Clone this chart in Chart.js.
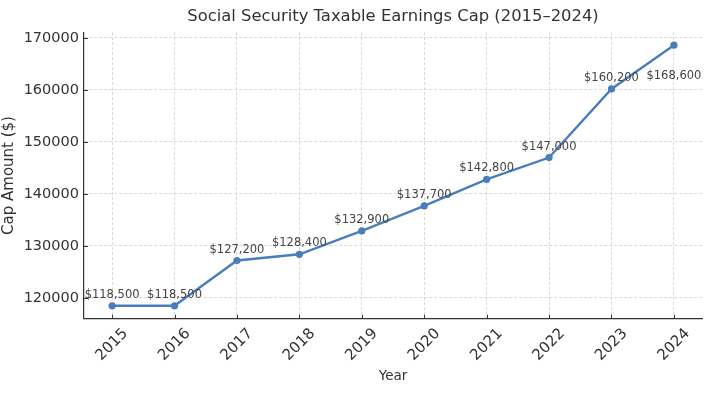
<!DOCTYPE html>
<html>
<head>
<meta charset="utf-8">
<script src="https://cdn.jsdelivr.net/npm/chart.js@4.4.1/dist/chart.umd.min.js"></script>
<style>
  html, body { margin: 0; padding: 0; background: #fff; }
</style>
</head>
<body>
<canvas id="capChart" width="704" height="396"></canvas>
<script>
// data
const years = [2015, 2016, 2017, 2018, 2019, 2020, 2021, 2022, 2023, 2024];
const capAmounts = [118500, 118500, 127200, 128400, 132900, 137700, 142800, 147000, 160200, 168600];
const yTicks = [120000, 130000, 140000, 150000, 160000, 170000];

const FONT = 'DejaVu Sans';
const lineColor = '#4a7ebb';

// x labels rotated 45deg and centred on the tick (matplotlib style), inner tick marks, value labels
const extrasPlugin = {
    id: 'extras',
    afterDatasetsDraw(chart) {
        const ctx = chart.ctx;
        const xs = chart.scales.x;
        const ys = chart.scales.y;
        const area = chart.chartArea;
        ctx.save();

        // inward tick marks
        ctx.strokeStyle = '#333';
        ctx.lineWidth = 1;
        ctx.setLineDash([]);
        ctx.beginPath();
        years.forEach(function(yr) {
            const px = Math.round(xs.getPixelForValue(yr)) + 0.5;
            ctx.moveTo(px, area.bottom);
            ctx.lineTo(px, area.bottom - 4);
        });
        yTicks.forEach(function(v) {
            const py = Math.round(ys.getPixelForValue(v)) + 0.5;
            ctx.moveTo(area.left, py);
            ctx.lineTo(area.left + 4, py);
        });
        ctx.stroke();

        // rotated year labels
        ctx.font = '15px "' + FONT + '"';
        ctx.fillStyle = '#333';
        ctx.textAlign = 'center';
        ctx.textBaseline = 'middle';
        years.forEach(function(yr) {
            const label = String(yr);
            const w = ctx.measureText(label).width;
            const h = 15 * 1.05;
            const boxH = (w + h) * Math.SQRT1_2;
            const px = xs.getPixelForValue(yr);
            const py = area.bottom + 7 + boxH / 2;
            ctx.save();
            ctx.translate(px, py);
            ctx.rotate(-Math.PI / 4);
            ctx.fillText(label, 0, 0);
            ctx.restore();
        });

        // value labels
        ctx.font = '11.5px "' + FONT + '"';
        ctx.fillStyle = '#444';
        const meta = chart.getDatasetMeta(0);
        meta.data.forEach(function(pt, i) {
            const text = '$' + capAmounts[i].toLocaleString('en-US');
            const dy = (i === capAmounts.length - 1) ? 31 : -11;
            ctx.fillText(text, pt.x, pt.y + dy);
        });
        ctx.restore();
    }
};

const capChart = new Chart(
    document.getElementById('capChart'),
    {
        type: 'line',
        data: {
            datasets: [
                {
                    label: 'Cap Amount',
                    data: years.map(function(yr, i) { return { x: yr, y: capAmounts[i] }; }),
                    borderColor: lineColor,
                    backgroundColor: lineColor,
                    borderWidth: 2.4,
                    pointRadius: 3.6,
                    pointHoverRadius: 3.6,
                    pointBorderWidth: 0,
                    tension: 0,
                    clip: false
                }
            ]
        },
        options: {
            responsive: false,
            animation: false,
            layout: {
                autoPadding: false,
                padding: { top: 0, right: 2, bottom: 0, left: 0 }
            },
            scales: {
                x: {
                    type: 'linear',
                    min: 2014.55,
                    max: 2024.45,
                    afterBuildTicks: function(scale) {
                        scale.ticks = years.map(function(v) { return { value: v }; });
                    },
                    ticks: { display: false },
                    grid: {
                        color: '#cfcfcf',
                        lineWidth: 0.8,
                        drawTicks: false
                    },
                    border: { display: true, color: '#333', width: 1.2, dash: [3, 2] },
                    title: {
                        display: true,
                        text: 'Year',
                        color: '#333',
                        font: { family: FONT, size: 13.5 },
                        padding: { top: 50, bottom: 11 }
                    }
                },
                y: {
                    min: 115995,
                    max: 171105,
                    afterBuildTicks: function(scale) {
                        scale.ticks = yTicks.map(function(v) { return { value: v }; });
                    },
                    afterFit: function(scale) {
                        scale.width = 84;
                    },
                    ticks: {
                        color: '#333',
                        padding: 5,
                        font: { family: FONT, size: 14.5 },
                        callback: function(v) { return String(v); }
                    },
                    grid: {
                        color: '#cfcfcf',
                        lineWidth: 0.8,
                        drawTicks: false
                    },
                    border: { display: true, color: '#333', width: 1.2, dash: [3, 2] },
                    title: {
                        display: true,
                        text: 'Cap Amount ($)',
                        color: '#333',
                        font: { family: FONT, size: 15 },
                        padding: { top: 0, bottom: 0 }
                    }
                }
            },
            plugins: {
                legend: { display: false },
                tooltip: { enabled: false },
                title: {
                    display: true,
                    fullSize: false,
                    text: 'Social Security Taxable Earnings Cap (2015–2024)',
                    color: '#333',
                    font: { family: FONT, size: 16.4, weight: 'normal' },
                    padding: { top: 7, bottom: 5.5 }
                }
            }
        },
        plugins: [extrasPlugin]
    }
);
</script>
</body>
</html>
